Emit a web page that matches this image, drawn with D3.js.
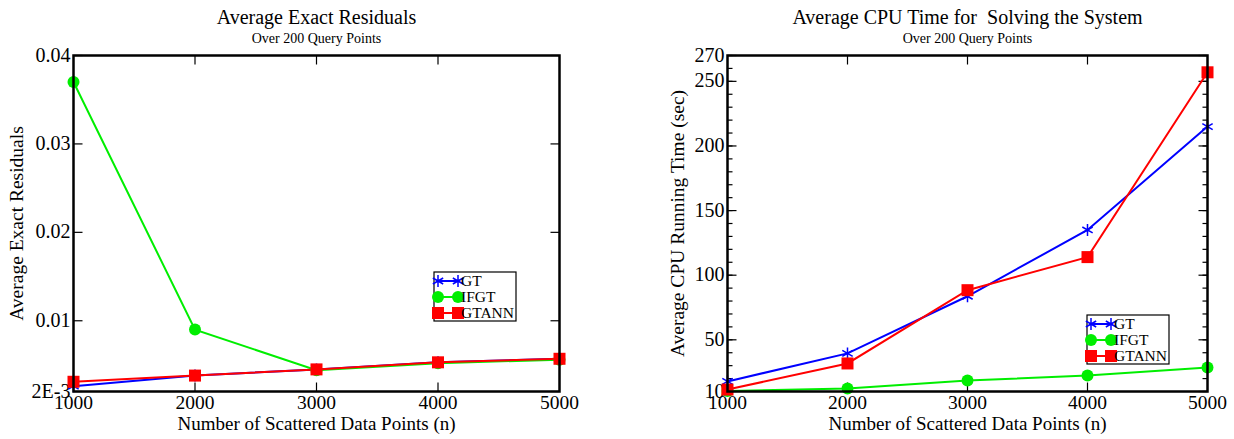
<!DOCTYPE html>
<html>
<head>
<meta charset="utf-8">
<script src="https://cdn.jsdelivr.net/npm/d3@7"></script>
<style>
  body { margin: 0; background: #fff; }
</style>
</head>
<body>
<svg id="chart" width="1234" height="439"></svg>
<script>
// data
const nPoints = [1000, 2000, 3000, 4000, 5000];

const residGT    = [0.0026, 0.0038, 0.0045, 0.0053, 0.0057];
const residIFGT  = [0.0370, 0.0090, 0.0044, 0.0052, 0.0056];
const residGTANN = [0.0031, 0.0038, 0.0045, 0.0053, 0.0057];

const timeGT    = [17.8, 39.5, 83.7, 135, 215];
const timeIFGT  = [10.3, 12.3, 18.5, 22.4, 28.6];
const timeGTANN = [11.5, 31.7, 88.4, 114, 257];

const residTicks = [0.002, 0.01, 0.02, 0.03, 0.04];
const residTickLabels = ["2E-3", "0.01", "0.02", "0.03", "0.04"];
const timeTicks = [10, 50, 100, 150, 200, 250, 270];
const timeTickLabels = ["10", "50", "100", "150", "200", "250", "270"];
const timeMinor = d3.range(10, 271, 10);

const seriesNames = ["GT", "IFGT", "GTANN"];
const colors = { GT: "#0000ff", IFGT: "#00ee00", GTANN: "#ff0000" };

const svg = d3.select('#chart')
    .attr('font-family', "'Liberation Serif', 'Times New Roman', Times, 'DejaVu Serif', serif");

function drawPanel(cfg) {
    var left = cfg.left, right = cfg.right, top = 55.5, bottom = 391.5;

    var x = d3.scaleLinear().domain([1000, 5000]).range([left, right]);
    var y = d3.scaleLinear().domain(cfg.yDomain).range([bottom, top]);

    var g = svg.append('g');

    // titles
    var cx = (left + right) / 2;
    g.append('text').attr('x', cx).attr('y', 24).attr('text-anchor', 'middle')
        .attr('font-size', 20).text(cfg.title);
    g.append('text').attr('x', cx).attr('y', 43).attr('text-anchor', 'middle')
        .attr('font-size', 14).text('Over 200 Query Points');

    // axis labels
    g.append('text').attr('x', cx).attr('y', 430).attr('text-anchor', 'middle')
        .attr('font-size', 19).text('Number of Scattered Data Points (n)');
    g.append('text')
        .attr('transform', 'translate(' + cfg.yLabelX + ',' + ((top + bottom) / 2) + ') rotate(-90)')
        .attr('text-anchor', 'middle').attr('font-size', 19.5).text(cfg.yLabel);

    // inward ticks
    var ticks = g.append('g').attr('stroke', '#000').attr('stroke-width', 1.2);
    nPoints.slice(1, -1).forEach(v => {
        ticks.append('line').attr('x1', x(v)).attr('x2', x(v)).attr('y1', bottom).attr('y2', bottom - 9);
        ticks.append('line').attr('x1', x(v)).attr('x2', x(v)).attr('y1', top).attr('y2', top + 9);
    });
    cfg.minor.forEach(v => {
        ticks.append('line').attr('x1', left).attr('x2', left + 5).attr('y1', y(v)).attr('y2', y(v));
        ticks.append('line').attr('x1', right).attr('x2', right - 5).attr('y1', y(v)).attr('y2', y(v));
    });
    cfg.yTicks.forEach(v => {
        ticks.append('line').attr('x1', left).attr('x2', left + 9).attr('y1', y(v)).attr('y2', y(v));
        ticks.append('line').attr('x1', right).attr('x2', right - 9).attr('y1', y(v)).attr('y2', y(v));
    });

    // tick labels
    nPoints.forEach(v => {
        g.append('text').attr('x', x(v)).attr('y', 409).attr('text-anchor', 'middle')
            .attr('font-size', 19.5).text(d3.format('d')(v));
    });
    cfg.yTicks.forEach((v, i) => {
        g.append('text').attr('x', left - 3).attr('y', y(v) + 6).attr('text-anchor', 'end')
            .attr('font-size', 20).text(cfg.yTickLabels[i]);
    });

    // series
    var line = d3.line().x((d, i) => x(nPoints[i])).y(d => y(d));
    var plot = g.append('g');
    seriesNames.forEach(name => {
        var vals = cfg.series[name];
        plot.append('path').datum(vals).attr('d', line)
            .attr('fill', 'none').attr('stroke', colors[name]).attr('stroke-width', 2);
    });
    seriesNames.forEach(name => {
        cfg.series[name].forEach((v, i) => marker(plot, name, x(nPoints[i]), y(v)));
    });

    // frame
    g.append('rect').attr('x', left).attr('y', top).attr('width', right - left).attr('height', bottom - top)
        .attr('fill', 'none').attr('stroke', '#000').attr('stroke-width', 2.5);

    // legend
    var lg = g.append('g').attr('transform', 'translate(' + cfg.legend[0] + ',' + cfg.legend[1] + ')');
    lg.append('rect').attr('x', 0).attr('y', 0).attr('width', 82).attr('height', 49)
        .attr('fill', '#fff').attr('stroke', '#000').attr('stroke-width', 1.2);
    seriesNames.forEach((name, i) => {
        var yy = 9 + i * 16;
        lg.append('line').attr('x1', 3).attr('x2', 24).attr('y1', yy).attr('y2', yy)
            .attr('stroke', colors[name]).attr('stroke-width', 2);
        marker(lg, name, 4, yy);
        marker(lg, name, 24, yy);
        lg.append('text').attr('x', 27).attr('y', yy + 5).attr('font-size', 15.5).text(name);
    });
}

function marker(sel, name, px, py) {
    if (name === 'GT') {
        sel.append('path').attr('d', d3.symbol(d3.symbolAsterisk, 100)())
            .attr('transform', 'translate(' + px + ',' + py + ')')
            .attr('fill', 'none').attr('stroke', colors.GT).attr('stroke-width', 1.5);
    } else if (name === 'IFGT') {
        sel.append('circle').attr('cx', px).attr('cy', py).attr('r', 6).attr('fill', colors.IFGT);
    } else {
        sel.append('rect').attr('x', px - 6).attr('y', py - 6).attr('width', 12).attr('height', 12)
            .attr('fill', colors.GTANN);
    }
}

drawPanel({
    left: 73.5, right: 559.5,
    yDomain: [0.002, 0.04],
    yTicks: residTicks, yTickLabels: residTickLabels, minor: [],
    title: 'Average Exact Residuals',
    yLabel: 'Average Exact Residuals', yLabelX: 23,
    series: { GT: residGT, IFGT: residIFGT, GTANN: residGTANN },
    legend: [434, 272]
});

drawPanel({
    left: 727.5, right: 1207.5,
    yDomain: [10, 270],
    yTicks: timeTicks, yTickLabels: timeTickLabels, minor: timeMinor,
    title: 'Average CPU Time for \u00a0Solving the System',
    yLabel: 'Average CPU Running Time (sec)', yLabelX: 684,
    series: { GT: timeGT, IFGT: timeIFGT, GTANN: timeGTANN },
    legend: [1087, 315]
});
</script>
</body>
</html>
